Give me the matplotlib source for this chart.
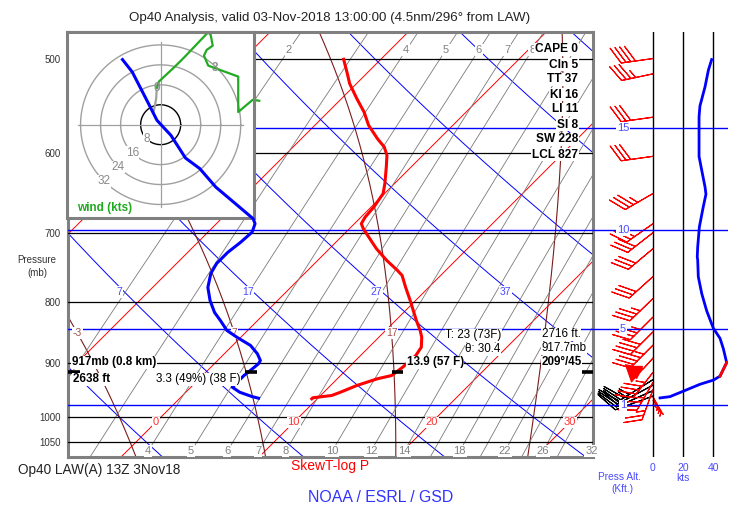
import numpy as np
import matplotlib
matplotlib.use("Agg")
import matplotlib.pyplot as plt
from matplotlib.ticker import NullLocator

plt.rcParams['font.family'] = ['Liberation Sans', 'DejaVu Sans']

# ---- sounding (hPa, degC) ----
temp_p = [500.7, 514.7, 524.8, 540.2, 554.4, 568.9, 583.7, 593.2, 602.8, 616.6,
          636.7, 649.2, 666.2, 679.2, 688.0, 694.6, 710.5, 722.0, 738.6, 753.0,
          760.3, 777.7, 798.0, 829.5, 845.7, 856.7, 873.5, 887.6, 907.9, 922.6,
          928.5, 940.6, 952.9, 959.0, 963.2, 965.1]
temp_t = [-12.7, -11.4, -10.5, -8.9, -7.4, -6.1, -4.5, -3.4, -2.6, -1.8,
          -0.7, -0.1, 0.2, 0.3, 0.5, 1.0, 2.4, 3.4, 5.0, 6.5,
          7.2, 8.3, 9.6, 11.5, 12.5, 13.1, 13.8, 14.0, 13.9, 13.7,
          12.9, 11.9, 11.2, 10.8, 9.6, 9.6]

dewp_p = [501.0, 513.1, 543.8, 563.4, 580.0, 606.0, 618.5, 641.0, 664.1, 681.4,
          688.0, 699.3, 713.3, 727.2, 742.9, 757.4, 778.2, 798.0, 816.8, 829.5,
          845.7, 856.7, 870.6, 884.7, 896.2, 901.9, 913.7, 922.6, 943.7, 952.9,
          960.9, 964.0]
dewp_td = [-28.7, -27.1, -23.8, -21.8, -19.7, -17.0, -15.2, -12.7, -9.8, -7.7,
           -7.2, -6.8, -6.9, -7.1, -7.1, -6.8, -6.0, -4.9, -3.7, -2.7,
           -1.5, -0.3, 1.3, 2.4, 3.1, 3.2, 3.1, 3.0, 3.0, 3.9,
           5.1, 5.7]

# ---- wind speed profile (kts) for the side panel ----
spd_p = [501, 511.5, 528, 548, 559.6, 604.2, 620.6, 641, 649.9, 666, 692.4, 719.6,
         733.6, 738.1, 762.3, 787.6, 814.3, 841.9, 858.8, 876.1, 899.9, 923.7,
         930.9, 938.4, 951.0, 961.1, 963.5]
spd_kt = [39.1, 36.9, 34.7, 31.3, 30.7, 30.7, 32.5, 34.7, 35.3, 33.5, 30.9, 29.8,
          29.5, 29.8, 30.2, 32.5, 35.8, 40.2, 44.7, 46.9, 49.1, 44.7,
          40.2, 31.3, 20.2, 11.3, 4.7]

# ---- wind barbs ----
barb_p = [500, 515, 560, 604, 649, 688, 700, 722, 762, 795, 824, 848, 870, 892, 917,
          935, 948]
barb_dir = [262, 258, 262, 262, 240, 235, 232, 230, 228, 226, 225, 225, 225, 222, 218,
            210, 200]
barb_spd = [39, 37, 31, 31, 35, 31, 30, 30, 30, 33, 37, 41, 46, 49, 45, 35, 25]
low_barb_p = [962, 968, 975]
low_barb_dir = [150, 143, 135]
low_barb_spd = [5, 5, 5]
obs_barb_p = [930, 940, 950, 960]
obs_barb_dir = [238, 242, 246, 250]
obs_barb_spd = [25, 25, 20, 20]

# ---- hodograph (u, v in kts) ----
hodo_gray_u = [-3.0, -2.4, -1.8, -1.6]
hodo_gray_v = [4.7, 7.0, 10.5, 13.5]
hodo_u = [-1.5, -0.7, 5.7, 9.7, 19.0, 20.0, 20.8, 18.4, 17.3, 19.0, 21.7, 31.0, 31.0,
          36.8, 39.4]
hodo_v = [14.8, 17.3, 23.3, 27.3, 37.1, 36.0, 31.7, 30.0, 27.7, 23.7, 22.7, 19.3, 5.1,
          10.0, 9.6]
hodo_rings = [8, 16, 24, 32]

# ---- cursor readout ----
cur_p = 917
cur_t = 13.9
cur_td = 3.3

stats_labels = ["CAPE 0", "Cln 5", "TT 37", "KI 16", "LI 11", "SI 8", "SW 228", "LCL 827"]
pressure_ticks = [500, 600, 700, 800, 900, 1000, 1050]
height_kft = [15, 10, 5, 1]
height_p = [571.8, 696.8, 843.1, 977.2]

isotherms = list(range(-40, 41, 10))
isotherm_labels = [0, 10, 20, 30]
dry_thetas = list(range(-3, 70, 10))
dry_labels = [7, 17, 27, 37]
moist_thetas = [-3, 7, 17, 27]
moist_labels = [-3, 7, 17]
mix_ratios = [1, 2, 3, 4, 5, 6, 7, 8, 10, 12, 14, 16, 18, 20, 22, 24, 26, 28, 32]
mix_top_labels = [2, 4, 5, 6, 7, 8]
mix_bot_labels = [4, 5, 6, 7, 8, 10, 12, 14, 18, 22, 26, 32]

SKEW = 37.5
P_BOT, P_TOP = 1080, 475
X_MIN, X_MAX = -6.73, 31.31


def skx(t, p):
    return np.asarray(t, dtype=float) + SKEW * np.log(1000.0 / np.asarray(p, dtype=float))


def dewpoint_from_w(w, p):
    e = w * p / (622.0 + w)
    a = np.log(e / 6.112)
    return 243.5 * a / (17.67 - a)


def moist_adiabat(tw, pp):
    def dtdp(T, p):
        es = 6.112 * np.exp(17.67 * (T - 273.15) / (T - 29.65))
        rs = 0.622 * es / (p - es)
        return (287.04 * T + 2.501e6 * rs) / (
            p * (1005.7 + 2.501e6 ** 2 * rs * 0.622 / (287.04 * T ** 2)))

    def run(p_end, step):
        ps = np.arange(1000.0, p_end, step)
        ts = [tw + 273.15]
        for p0 in ps[:-1]:
            T = ts[-1]
            k1 = dtdp(T, p0)
            k2 = dtdp(T + step * k1 / 2, p0 + step / 2)
            k3 = dtdp(T + step * k2 / 2, p0 + step / 2)
            k4 = dtdp(T + step * k3, p0 + step)
            ts.append(T + step * (k1 + 2 * k2 + 2 * k3 + k4) / 6)
        return ps, np.array(ts)

    pu, tu = run(440.0, -2.0)
    pd, td = run(1100.0, 2.0)
    ps = np.concatenate([pd[::-1], pu[1:]])
    ts = np.concatenate([td[::-1], tu[1:]])
    return np.interp(np.log(pp), np.log(ps[::-1]), ts[::-1]) - 273.15


W, H = 741, 512


def rect(x0, y0, x1, y1):
    return [x0 / W, 1 - y1 / H, (x1 - x0) / W, (y1 - y0) / H]


fig = plt.figure(figsize=(W / 100, H / 100), dpi=100)

# ---------------- skew-T background ----------------
ax = fig.add_axes(rect(68, 32, 593, 457), zorder=1)
ax.set_yscale('log')
ax.set_ylim(P_BOT, P_TOP)
ax.set_xlim(X_MIN, X_MAX)
ax.set_xticks([])
ax.yaxis.set_minor_locator(NullLocator())
ax.set_yticks(pressure_ticks)
ax.set_yticklabels([str(p) for p in pressure_ticks])
ax.tick_params(axis='y', length=0, labelsize=7, labelcolor='#333333', pad=5)
for s in ax.spines.values():
    s.set_color('#808080')
    s.set_linewidth(2.2)

pp = np.geomspace(1100, 440, 300)
lbl_box = dict(facecolor='white', edgecolor='none', pad=0.6)

for t in isotherms:
    ax.plot(skx(t, pp), pp, color='red', lw=0.7)
for t in isotherm_labels:
    ax.text(skx(t, 1010), 1010, str(t), color='#ff3030', fontsize=8, ha='center',
            va='center', bbox=lbl_box, zorder=4)

for th in dry_thetas:
    tt = (th + 273.15) * (pp / 1000.0) ** 0.2857 - 273.15
    ax.plot(skx(tt, pp), pp, color='blue', lw=0.7)
for th in dry_labels:
    tt = (th + 273.15) * (785 / 1000.0) ** 0.2857 - 273.15
    ax.text(skx(tt, 785) - 0.4, 785, str(th), color='#4848ff', fontsize=7.5, ha='center',
            va='center', bbox=lbl_box, zorder=4)

for tw in moist_thetas:
    tt = moist_adiabat(tw, pp)
    ax.plot(skx(tt, pp), pp, color='#7a1c1c', lw=0.8)
for tw in moist_labels:
    t850 = moist_adiabat(tw, np.array([850.0]))[0]
    ax.text(skx(t850, 850), 850, str(tw), color='#a05050', fontsize=7.5, ha='center',
            va='center', bbox=lbl_box, zorder=4)

for w in mix_ratios:
    ax.plot(skx(dewpoint_from_w(w, pp), pp), pp, color='#7a7a7a', lw=0.6)
for w in mix_top_labels:
    ax.text(skx(dewpoint_from_w(w, 492), 492), 492, str(w), color='#808080',
            fontsize=8, ha='center', va='center', bbox=lbl_box, zorder=4)
for w in mix_bot_labels:
    ax.text(skx(dewpoint_from_w(w, 1068), 1068), 1068, str(w), color='#808080',
            fontsize=8, ha='center', va='center', bbox=lbl_box, zorder=4)

for p in pressure_ticks:
    ax.axhline(p, color='black', lw=0.9, zorder=3)
for hp in height_p:
    ax.axhline(hp, color='blue', lw=1.0, zorder=3)

# ---------------- hodograph inset ----------------
hax = fig.add_axes(rect(67.3, 31.7, 254, 217.7), zorder=3)
hax.set_xlim(-37.3, 37.3)
hax.set_ylim(-37.3, 37.3)
hax.set_xticks([])
hax.set_yticks([])
hax.set_facecolor('white')
for s in hax.spines.values():
    s.set_color('#808080')
    s.set_linewidth(2.2)
ang = np.linspace(0, 2 * np.pi, 361)
for r in hodo_rings:
    hax.plot(r * np.cos(ang), r * np.sin(ang), color='black' if r == 8 else '#a0a0a0',
             lw=1.0)
    hax.text(-r * 0.7071, -r * 0.7071, str(r), color='#8a8a8a', fontsize=8.5,
             ha='center', va='center', bbox=dict(facecolor='white', edgecolor='none', pad=0.3))
hax.plot([-33, 33], [0, 0], color='#a0a0a0', lw=0.9)
hax.plot([0, 0], [-33, 33], color='#a0a0a0', lw=0.9)
hax.plot(hodo_gray_u, hodo_gray_v, color='#a0a0a0', lw=1.6)
hax.plot(hodo_u, hodo_v, color='#22aa22', lw=1.6, clip_on=False)
hax.text(hodo_u[0], hodo_v[0], "0", color='#909090', fontsize=8.5, fontweight='bold',
         ha='center', va='center')
hax.text(hodo_u[10], hodo_v[10], "3", color='#909090', fontsize=8.5, fontweight='bold',
         ha='center', va='center')
hax.text(0.05, 0.035, "wind (kts)", color='#22aa22', fontsize=8.5, fontweight='bold',
         transform=hax.transAxes)

# ---------------- sounding curves (on top of the inset) ----------------
tax = fig.add_axes(rect(68, 32, 593, 457), sharex=ax, sharey=ax, zorder=5)
tax.set_facecolor('none')
tax.axis('off')
tax.plot(skx(temp_t, temp_p), temp_p, color='red', lw=2.2)
tax.plot(skx(dewp_td, dewp_p), dewp_p, color='blue', lw=2.2)

bar = dict(color='black', lw=2.6, solid_capstyle='butt')
x_t = float(skx(cur_t, cur_p))
x_td = float(skx(cur_td, cur_p))
tax.plot([X_MIN, X_MIN + 0.9], [cur_p, cur_p], clip_on=False, **bar)
tax.plot([x_td - 0.45, x_td + 0.45], [cur_p, cur_p], **bar)
tax.plot([x_t - 0.4, x_t + 0.4], [cur_p, cur_p], **bar)
tax.plot([X_MAX - 0.8, X_MAX], [cur_p, cur_p], clip_on=False, **bar)

wbox = dict(facecolor='white', edgecolor='none', pad=0.4)
fs = 8.4


def note(x, txt, dx, dy, ha='left', bold=False):
    tax.annotate(txt, xy=(x, cur_p), xytext=(dx * 0.72, dy * 0.72), textcoords='offset points',
                 ha=ha, va='center', fontsize=fs, fontweight='bold' if bold else 'normal',
                 bbox=wbox, zorder=8)


note(X_MIN, "917mb (0.8 km)", 4, 10, bold=True)
note(X_MIN, "2638 ft", 5, -7, bold=True)
note(x_td, "3.3 (49%) (38 F)", -11, -7, ha='right')
note(x_t, "13.9 (57 F)", 9, 10, bold=True)
note(x_t, "T: 23 (73F)", 104, 37, ha='right')
note(x_t, "\u03b8: 30.4", 103, 23, ha='right')
note(x_t, "2716 ft.", 144, 38)
note(x_t, "917.7mb", 144, 24)
note(x_t, "209\u00b0/45", 144, 10, bold=True)

for i, s in enumerate(stats_labels):
    tax.text(0.9714, (457 - 49.5 - 15 * i) / 425, s, transform=tax.transAxes, ha='right',
             va='center', fontsize=8.6, fontweight='bold', bbox=wbox, zorder=8)

# ---------------- wind panel ----------------
rax = fig.add_axes(rect(593, 32, 728, 457), zorder=1)
rax.set_yscale('log')
rax.set_ylim(P_BOT, P_TOP)
rax.set_xlim(-40, 50)
rax.set_yticks([])
rax.yaxis.set_minor_locator(NullLocator())
rax.set_xticks([0, 20, 40])
rax.tick_params(axis='x', length=0, labelsize=7.5, labelcolor='#4a4aff', pad=4)
rax.set_facecolor('none')
for s in rax.spines.values():
    s.set_visible(False)
for k in [0, 20, 40]:
    rax.axvline(k, color='black', lw=1.0)
for hp, hk in zip(height_p, height_kft):
    rax.axhline(hp, color='blue', lw=1.0)
    rax.text(-20, hp, str(hk), color='#4a4aff', fontsize=8, ha='center', va='center',
             bbox=dict(facecolor='white', edgecolor='none', pad=0.5))

spd_p_a = np.array(spd_p)
spd_kt_a = np.array(spd_kt)
rax.plot(spd_kt_a, spd_p_a, color='blue', lw=2.0)
hl = (spd_p_a >= 895) & (spd_p_a <= 925)
rax.plot(spd_kt_a[hl], spd_p_a[hl], color='red', lw=2.0)

bsz = dict(height=0.5, width=0.55, spacing=0.15)


def draw_barbs(levels, dirs, speeds, color, length):
    d = np.radians(dirs)
    s = np.array(speeds, dtype=float)
    rax.barbs(np.zeros(len(levels)), levels, -s * np.sin(d), -s * np.cos(d), color=color,
              length=length, linewidth=0.8, sizes=bsz)


draw_barbs(obs_barb_p, obs_barb_dir, obs_barb_spd, 'black', 7.6)
draw_barbs(barb_p, barb_dir, barb_spd, 'red', 6.8)
draw_barbs(low_barb_p, low_barb_dir, low_barb_spd, 'red', 4.6)
rax.plot([-11.5], [cur_p], marker='v', color='red', ms=9, ls='none')

fig.text(620 / W, 1 - 477 / H, "Press Alt.", color='#4a4aff', fontsize=7.3, ha='center',
         va='center')
fig.text(622 / W, 1 - 489 / H, "(Kft.)", color='#4a4aff', fontsize=7.3, ha='center',
         va='center')
fig.text(683 / W, 1 - 478 / H, "kts", color='#4a4aff', fontsize=7.5, ha='center',
         va='center')

# ---------------- titles ----------------
fig.text(330 / W, 1 - 18 / H, "Op40 Analysis, valid 03-Nov-2018 13:00:00 (4.5nm/296\u00b0 from LAW)",
         fontsize=9.6, ha='center', va='center', color='#222222')
fig.text(18 / W, 1 - 470 / H, "Op40 LAW(A) 13Z 3Nov18", fontsize=9.8, ha='left',
         va='center', color='#222222')
fig.text(330 / W, 1 - 466 / H, "SkewT-log P", fontsize=10, ha='center', va='center',
         color='red')
fig.text(381 / W, 1 - 497 / H, "NOAA / ESRL / GSD", fontsize=11.4, ha='center',
         va='center', color='#3333ff')
fig.text(37 / W, 1 - 260 / H, "Pressure", fontsize=7, ha='center', va='center',
         color='#333333')
fig.text(37 / W, 1 - 273 / H, "(mb)", fontsize=7, ha='center', va='center',
         color='#333333')

fig.savefig("out.png", dpi=100)
